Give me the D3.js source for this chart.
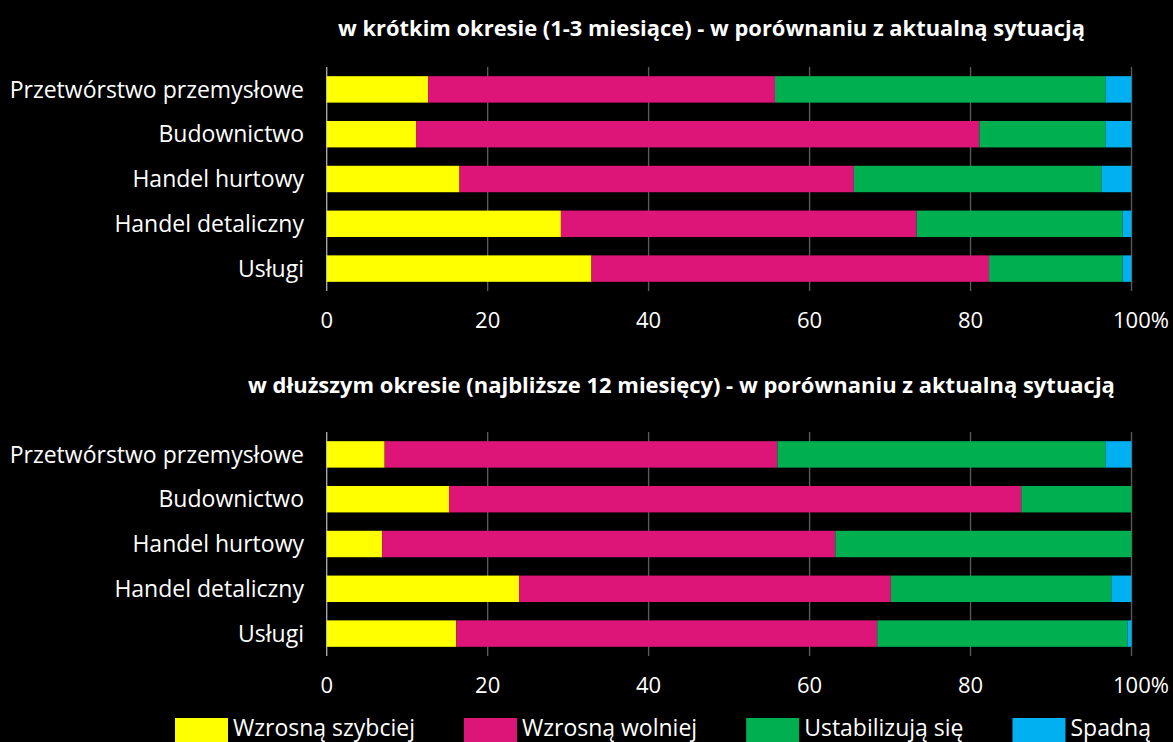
<!DOCTYPE html>
<html>
<head>
<meta charset="utf-8">
<script src="https://cdn.jsdelivr.net/npm/d3@7"></script>
<style>
  html, body { margin: 0; padding: 0; background: #000; }
  svg { display: block; }
  text { font-family: "Open Sans", "Noto Sans", sans-serif; fill: #fff; }
</style>
</head>
<body>
<div id="chart"></div>
<script>
// categories (top to bottom)
const sectors = ["Przetwórstwo przemysłowe", "Budownictwo", "Handel hurtowy", "Handel detaliczny", "Usługi"];
const seriesNames = ["Wzrosną szybciej", "Wzrosną wolniej", "Ustabilizują się", "Spadną"];
const seriesColors = ["#ffff00", "#dd1579", "#00b050", "#00b0f0"];

// short term (1-3 months), % per sector
const shortFaster = [12.6, 11.1, 16.5, 29.1, 32.9];
const shortSlower = [43.1, 70.0, 49.0, 44.2, 49.4];
const shortStable = [41.1, 15.7, 30.8, 25.6, 16.6];
const shortDrop   = [3.2, 3.2, 3.7, 1.1, 1.1];

// longer term (next 12 months)
const longFaster = [7.2, 15.2, 6.9, 23.9, 16.1];
const longSlower = [48.8, 71.1, 56.3, 46.2, 52.3];
const longStable = [40.8, 13.7, 36.8, 27.4, 31.1];
const longDrop   = [3.2, 0, 0, 2.5, 0.5];

const xTicks = [0, 20, 40, 60, 80, 100];

const panels = [
  { title: "w krótkim okresie (1-3 miesiące) - w porównaniu z aktualną sytuacją",
    series: [shortFaster, shortSlower, shortStable, shortDrop], top: 67,
    titleY: 36, titleX0: 338, titleX1: 1085 },
  { title: "w dłuższym okresie (najbliższe 12 miesięcy) - w porównaniu z aktualną sytuacją",
    series: [longFaster, longSlower, longStable, longDrop], top: 432,
    titleY: 393, titleX0: 248, titleX1: 1115 }
];

const W = 1173, H = 742;
const svg = d3.select("#chart").append("svg").attr("width", W).attr("height", H);

const x = d3.scaleLinear().domain([0, 100]).range([326.7, 1131.5]);
const plotH = 224;

// shrink/grow a text's font so it spans the given width
function fitWidth(sel, width) {
  const fs = parseFloat(sel.style("font-size"));
  const len = sel.node().getComputedTextLength();
  sel.style("font-size", (fs * width / len).toFixed(2) + "px");
}

panels.forEach(p => {
  const g = svg.append("g");

  const y = d3.scaleBand().domain(sectors)
    .range([p.top, p.top + plotH])
    .paddingInner(0.41).paddingOuter(0.205);

  // title
  const title = g.append("text")
    .attr("x", (p.titleX0 + p.titleX1) / 2).attr("y", p.titleY)
    .attr("text-anchor", "middle")
    .style("font-weight", 700).style("font-size", "20px")
    .text(p.title);
  fitWidth(title, p.titleX1 - p.titleX0);

  // gridlines
  g.selectAll("line.grid").data(xTicks).enter().append("line")
    .attr("class", "grid")
    .attr("x1", d => x(d)).attr("x2", d => x(d))
    .attr("y1", p.top).attr("y2", p.top + plotH)
    .attr("stroke", d => d === 0 ? "#a6a6a6" : "#595959")
    .attr("stroke-width", 1.4);

  // stacked bars
  const rows = sectors.map((s, i) => {
    let acc = 0;
    return p.series.map((ser, k) => {
      const seg = { sector: s, k, x0: acc, x1: acc + ser[i] };
      acc += ser[i];
      return seg;
    });
  }).flat().filter(d => d.x1 > d.x0);

  g.selectAll("rect.bar").data(rows).enter().append("rect")
    .attr("class", "bar")
    .attr("x", d => x(d.x0))
    .attr("width", d => x(d.x1) - x(d.x0))
    .attr("y", d => y(d.sector))
    .attr("height", y.bandwidth())
    .attr("fill", d => seriesColors[d.k]);

  // category labels
  g.selectAll("text.cat").data(sectors).enter().append("text")
    .attr("class", "cat")
    .attr("x", 304)
    .attr("y", d => y(d) + y.bandwidth() / 2)
    .attr("dy", "0.36em")
    .attr("text-anchor", "end")
    .style("font-size", "23px")
    .text(d => d);

  // x tick labels
  g.selectAll("text.tick").data(xTicks).enter().append("text")
    .attr("class", "tick")
    .attr("x", d => x(d))
    .attr("y", p.top + plotH + 37)
    .attr("text-anchor", d => d === 100 ? "start" : "middle")
    .attr("dx", d => d === 100 ? -18.5 : 0)
    .style("font-size", "22px")
    .text(d => d === 100 ? "100%" : d);
});

// legend
const legend = svg.append("g").attr("class", "legend");
let lx = 175;
seriesNames.forEach((name, k) => {
  legend.append("rect")
    .attr("x", lx).attr("y", 718)
    .attr("width", 53).attr("height", 30)
    .attr("fill", seriesColors[k]);
  const t = legend.append("text")
    .attr("x", lx + 58).attr("y", 736)
    .style("font-size", "23px")
    .text(name);
  lx += 58 + t.node().getComputedTextLength() + 49;
});
</script>
</body>
</html>
